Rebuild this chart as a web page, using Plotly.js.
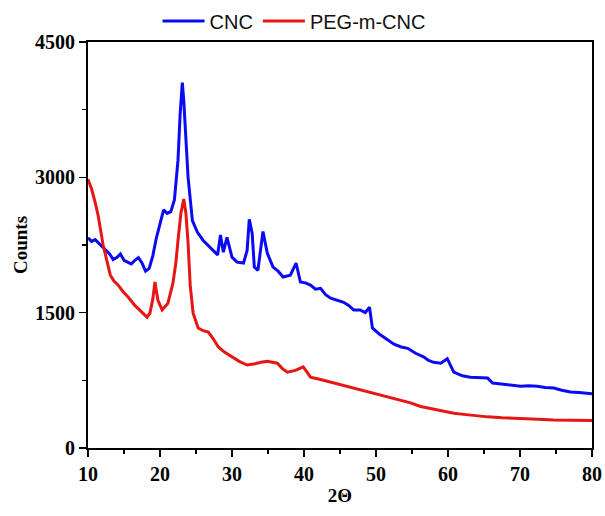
<!DOCTYPE html>
<html>
<head>
<meta charset="utf-8">
<script src="https://cdn.plot.ly/plotly-3.0.1.min.js"></script>
<style>html,body{margin:0;padding:0;background:#fff;}#chart{width:605px;height:516px;}</style>
</head>
<body>
<div id="chart"></div>
<script>
const cncX = [10,10.5,11,11.5,12,12.5,13,13.5,14,14.5,15,15.5,16,16.5,17,17.5,18,18.5,19,19.5,20,20.5,21,21.5,22,22.5,22.8,23.1,23.3,23.5,23.9,24.5,25.2,26,26.7,27.4,28,28.4,28.8,29.3,30,30.7,31.6,32.1,32.4,32.8,33.1,33.6,34.3,34.9,35.7,36.4,37.1,38.1,38.9,39.5,40.2,40.9,41.6,42.3,43,43.7,44.6,45.5,46.2,46.9,47.8,48.5,49.1,49.5,50.5,51.6,52.5,53.5,54.4,55.5,56.6,57.3,58,59,59.9,60.8,62,63.1,64.3,65.5,66.2,67.2,68.3,69.2,70.1,71.2,72.4,73.5,74.7,75.8,77,78.2,79.4,80];
const cncY = [2330,2290,2310,2270,2230,2190,2150,2090,2110,2150,2080,2060,2040,2080,2110,2050,1960,1990,2130,2330,2500,2640,2600,2620,2750,3190,3700,4050,3850,3550,3000,2520,2390,2300,2240,2190,2140,2360,2170,2335,2115,2060,2050,2190,2535,2380,2005,1970,2400,2160,2005,1960,1895,1915,2050,1840,1830,1805,1760,1770,1700,1660,1640,1615,1580,1530,1530,1500,1560,1330,1260,1195,1150,1120,1105,1050,1010,970,950,940,990,840,800,785,780,775,720,710,700,690,685,690,685,670,665,640,620,615,610,600];
const pegX = [10,10.5,11,11.4,12.1,12.6,13.1,13.6,14.2,14.9,15.6,16.5,17.3,18.2,18.6,19,19.3,19.7,20.3,21.1,21.8,22.2,22.5,22.9,23.3,23.6,23.9,24.2,24.6,25.3,26,26.7,27.4,28.1,29,30,31,32.1,33,34,34.9,36.3,37,37.7,38.8,39.9,40.9,42.3,43.7,45.1,46.5,47.8,49.2,50.6,52,53.4,54.8,56.2,57.5,59,60.8,62.5,64,65.5,67.5,70.1,72.5,74.7,77,79.4,80];
const pegY = [2980,2870,2720,2580,2250,2070,1915,1850,1805,1730,1670,1580,1520,1450,1495,1650,1840,1640,1530,1605,1830,2050,2300,2600,2760,2600,2270,1800,1495,1330,1300,1285,1210,1120,1060,1010,960,920,930,950,960,940,880,840,860,900,785,760,730,700,675,650,620,585,555,525,500,460,440,415,385,370,355,345,335,330,320,310,310,310,305];
const xTicks = [10,20,30,40,50,60,70,80];
const yTicks = [0,1500,3000,4500];

const serif = 'Liberation Serif';
function tf(s) { return {family: serif, size: s, color: '#000', weight: 'bold'}; }
const traces = [
  {x: cncX, y: cncY, type: 'scatter', mode: 'lines', name: 'CNC', line: {color: '#0a0af5', width: 3}},
  {x: pegX, y: pegY, type: 'scatter', mode: 'lines', name: 'PEG-m-CNC', line: {color: '#e81515', width: 3}}
];
const layout = {
  width: 605, height: 516,
  margin: {l: 88, r: 13, t: 42, b: 68, autoexpand: false},
  paper_bgcolor: '#fff', plot_bgcolor: '#fff',
  showlegend: true,
  legend: {orientation: 'h', x: 0.138, xref: 'paper', xanchor: 'left', y: 1.052, yanchor: 'middle',
           font: {family: 'Liberation Sans', size: 20, color: '#111'}, itemwidth: 42, bgcolor: 'rgba(0,0,0,0)'},
  xaxis: {range: [10, 80], tickvals: xTicks, ticktext: xTicks.map(String), ticks: 'outside', ticklen: 7, tickwidth: 1.5, tickcolor: '#000',
          showline: true, linecolor: '#000', linewidth: 2, mirror: true, showgrid: false, zeroline: false,
          minor: {dtick: 5, tick0: 5, ticks: 'outside', ticklen: 4, tickwidth: 1.5, tickcolor: '#000', showgrid: false},
          tickfont: tf(20),
          title: {text: '2Θ', font: tf(19), standoff: 5}},
  yaxis: {range: [0, 4500], tickvals: yTicks, ticktext: yTicks.map(String), ticks: 'outside', ticklen: 7, tickwidth: 1.5, tickcolor: '#000',
          showline: true, linecolor: '#000', linewidth: 2, mirror: true, showgrid: false, zeroline: false,
          minor: {dtick: 750, ticks: 'outside', ticklen: 4, tickwidth: 1.5, tickcolor: '#000', showgrid: false},
          tickfont: tf(20),
          title: {text: 'Counts', font: tf(19), standoff: 2}}
};
Plotly.newPlot('chart', traces, layout, {displayModeBar: false, staticPlot: true});
</script>
</body>
</html>
